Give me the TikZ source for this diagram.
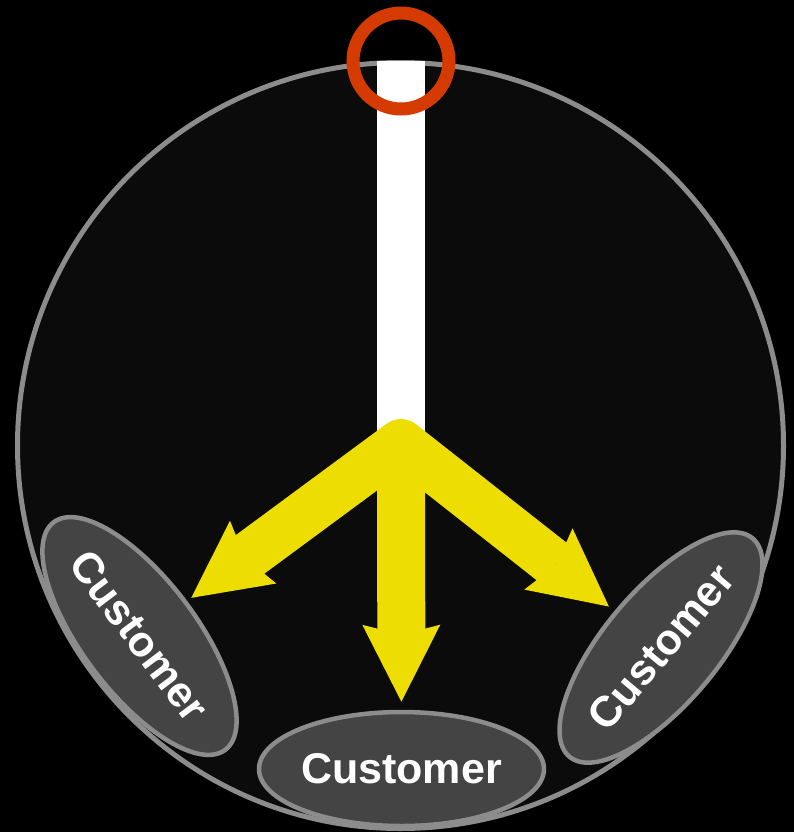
\documentclass[tikz,border=0pt]{standalone}
\usepackage{fontspec}
\setmainfont{Liberation Sans}
\usetikzlibrary{shapes.geometric,arrows.meta}
\definecolor{dialfill}{HTML}{0B0B0B}
\definecolor{rimgray}{HTML}{8C8C8C}
\definecolor{ringred}{HTML}{D53A00}
\definecolor{flowyellow}{HTML}{EEDD00}
\definecolor{custfill}{HTML}{444444}
\tikzset{
  custbox/.style={ellipse, draw=rimgray, fill=custfill, line width=4.5pt,
    minimum width=285pt, minimum height=114pt, inner sep=0pt,
    text=white, font=\fontsize{43}{43}\selectfont\bfseries},
  yarrow/.style={draw=flowyellow, line width=48pt, line cap=butt,
    -{Stealth[length=77pt,width=78pt,inset=10pt,line width=0pt]}},
}
\begin{document}
\begin{tikzpicture}[x=1pt,y=-1pt]
\fill[black] (0,0) rectangle (794,832);
\useasboundingbox (0,0) rectangle (794,832);
% dial
\node[circle, draw=rimgray, fill=dialfill, line width=5pt, minimum size=766pt, inner sep=0pt] (dial) at (400.5,445.5) {};
% hub and ring
\node[circle, fill=flowyellow, minimum size=48pt, inner sep=0pt] (hub) at (401,443) {};
\node[circle, minimum size=96pt, inner sep=0pt] (ring) at (401,61) {};
\draw[white, line width=48pt] (ring.center) -- (hub.center);
\node[circle, draw=ringred, line width=13pt, minimum size=96pt, inner sep=0pt] at (ring.center) {};
% customers
\node[custbox, rotate=-53] (cL) at (139.5,636) {Customer};
\node[custbox] (cB) at (401.5,769) {Customer};
\node[custbox, rotate=50] (cR) at (661,647.5) {Customer};
% arrows
\node[circle, fill=flowyellow, minimum size=48pt, inner sep=0pt] at (hub.center) {};
\draw[yarrow, shorten >=5pt] (hub.center) -- (cL);
\draw[yarrow, shorten >=8pt] (hub.center) -- (cB);
\draw[yarrow, shorten >=7pt] (hub.center) -- (cR);
\end{tikzpicture}
\end{document}
